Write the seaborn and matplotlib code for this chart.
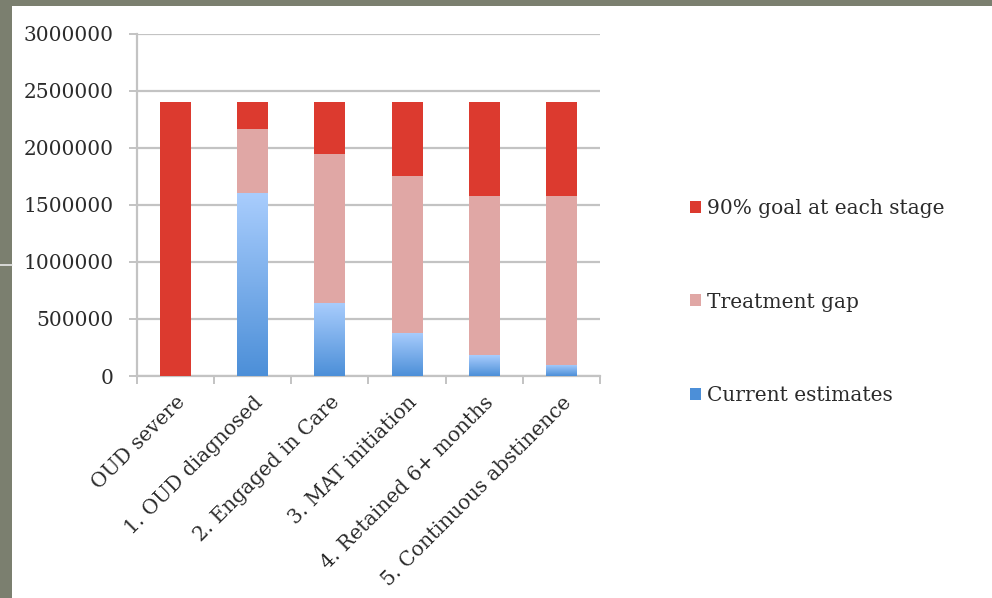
import numpy as np
import pandas as pd
import matplotlib
matplotlib.use("Agg")
import matplotlib.pyplot as plt
from matplotlib.patches import Rectangle, Patch
from matplotlib.colors import LinearSegmentedColormap
import seaborn as sns

# Care cascade stages and stacked segment values
stages = ["OUD severe", "1. OUD diagnosed", "2. Engaged in Care",
          "3. MAT initiation", "4. Retained 6+ months", "5. Continuous abstinence"]
current_estimates = [0, 1600000, 640000, 380000, 180000, 100000]
treatment_gap = [0, 560000, 1304000, 1370000, 1395000, 1475000]
goal_remaining = [2400000, 240000, 456000, 650000, 825000, 825000]
y_ticks = [0, 500000, 1000000, 1500000, 2000000, 2500000, 3000000]

RED = "#dc3a2f"
PINK = "#e0a7a5"
BLUE_DARK = "#4c8fd8"
BLUE_LIGHT = "#a9cdfd"
GRID = "#c3c3c3"
TEXT = "#2b2b2b"

df = pd.DataFrame({
    "stage": stages,
    "current": current_estimates,
    "gap": treatment_gap,
    "goal": goal_remaining,
})
df["upto_gap"] = df["current"] + df["gap"]
df["upto_goal"] = df["upto_gap"] + df["goal"]

sns.set_theme(style="white")
plt.rcParams["font.family"] = ["DejaVu Serif"]

fig = plt.figure(figsize=(9.92, 5.98), dpi=100, facecolor="#7b7f6f")
# white slide panel behind the chart
fig.patches.append(Rectangle((12 / 992, 0), 1, 1 - 6 / 598, transform=fig.transFigure,
                             facecolor="white", edgecolor="none", zorder=-5))
fig.lines.append(plt.Line2D([0, 12 / 992], [1 - 265 / 598] * 2, transform=fig.transFigure,
                            color="#e8e8e8", lw=1.2, zorder=-4))

ax = fig.add_axes([137 / 992, 1 - 376 / 598, (600 - 137) / 992, (376 - 33.6) / 598])
ax.set_facecolor("none")
ax.set_zorder(1)

bar_kw = dict(width=0.4, saturation=1, edgecolor="none", linewidth=0, ax=ax)
# stacked bars drawn back to front as cumulative heights, above the axis line
sns.barplot(data=df, x="stage", y="upto_goal", color=RED, zorder=3, **bar_kw)
sns.barplot(data=df, x="stage", y="upto_gap", color=PINK, zorder=4, **bar_kw)
n_before = len(ax.patches)
sns.barplot(data=df, x="stage", y="current", color=BLUE_DARK, zorder=5, **bar_kw)
blue_bars = ax.patches[n_before:]

# empty segments should leave no trace on the baseline
for bar in ax.patches:
    if bar.get_height() <= 0:
        bar.set_visible(False)

# vertical gradient fill for the current-estimate bars
cmap = LinearSegmentedColormap.from_list("blues", [BLUE_DARK, BLUE_LIGHT])
grad = np.linspace(0, 1, 256).reshape(-1, 1)
for bar in blue_bars:
    x0, y0 = bar.get_x(), bar.get_y()
    w, h = bar.get_width(), bar.get_height()
    if h <= 0:
        continue
    im = ax.imshow(grad, cmap=cmap, origin="lower", aspect="auto",
                   extent=[x0, x0 + w, y0, y0 + h], zorder=6)
    im.set_clip_path(bar)
ax.set_xlim(-0.5, 5.5)
ax.set_ylim(0, 3000000)

ax.set_yticks(y_ticks)
ax.set_yticklabels([str(v) for v in y_ticks])
ax.yaxis.grid(True, color=GRID, linewidth=1.6)
ax.xaxis.grid(False)
ax.set_axisbelow(True)
ax.set_xlabel("")
ax.set_ylabel("")

for side in ["top", "right"]:
    ax.spines[side].set_visible(False)
for side in ["left", "bottom"]:
    ax.spines[side].set_color(GRID)
    ax.spines[side].set_linewidth(1.6)

ax.tick_params(axis="y", which="major", length=6, width=1.4, color=GRID,
               labelsize=14.5, labelcolor=TEXT, pad=11, left=True)
ax.set_xticks(range(len(stages)))
ax.set_xticklabels(stages, rotation=45, ha="right", rotation_mode="anchor")
ax.tick_params(axis="x", which="major", length=0, labelsize=14.5, labelcolor=TEXT, pad=12)
ax.set_xticks(np.arange(-0.5, len(stages), 1.0), minor=True)
ax.tick_params(axis="x", which="minor", length=6, width=1.4, color=GRID, bottom=True)

handles = [Patch(facecolor=RED, edgecolor="none"),
           Patch(facecolor=PINK, edgecolor="none"),
           Patch(facecolor=BLUE_DARK, edgecolor="none")]
labels = ["90% goal at each stage", "Treatment gap", "Current estimates"]
fig.legend(handles, labels, loc="center left", bbox_to_anchor=(672 / 992, 1 - 302 / 598),
           frameon=False, fontsize=14.5, labelspacing=3.7, handlelength=0.55,
           handleheight=0.55, handletextpad=0.3, labelcolor=TEXT)

fig.savefig("out.png", dpi=100, facecolor=fig.get_facecolor())
